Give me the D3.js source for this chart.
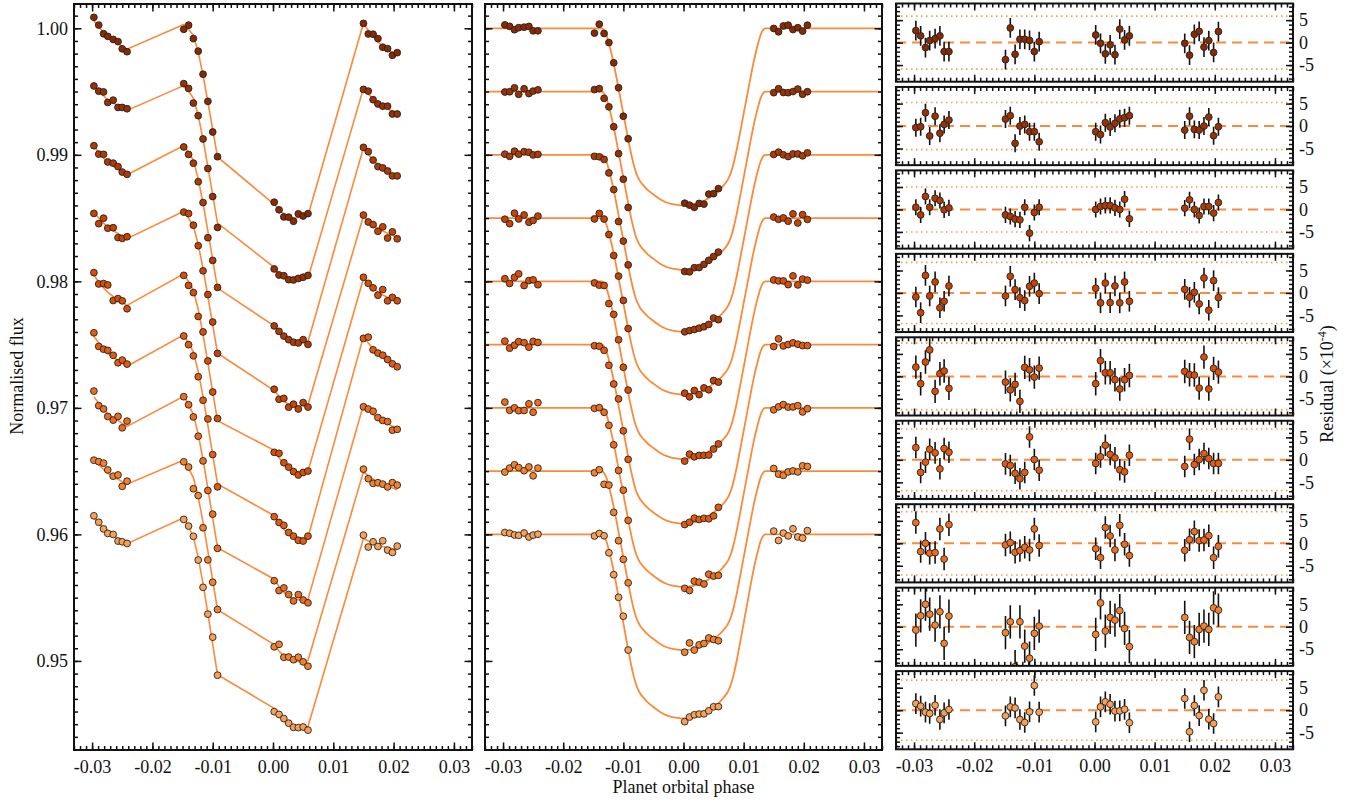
<!DOCTYPE html>
<html><head><meta charset="utf-8">
<script src="https://cdn.jsdelivr.net/npm/d3@7"></script>
<style>body{margin:0;background:#fff} svg{display:block} text{font-family:"Liberation Serif","Times New Roman",serif;fill:#111}</style>
</head><body><svg id="c" width="1359" height="802"></svg>
<script>
// ---------- data ----------
const phases = [-0.0297,-0.0289,-0.0281,-0.0274,-0.0265,-0.0257,-0.0250,-0.0242,
  -0.0148,-0.0140,-0.0132,-0.0124,-0.0116,-0.0108,-0.0100,-0.0092,
  0.0002,0.0010,0.0018,0.0026,0.0034,0.0042,0.0050,0.0058,
  0.0150,0.0158,0.0166,0.0174,0.0182,0.0190,0.0198,0.0206];
const baselines = [1.000,0.995,0.990,0.985,0.980,0.975,0.970,0.965,0.960];
const depths = [140,141,140,139.5,140.5,141.5,141.5,141.5,145.5]; // x1e-4
const colors = ["#8a2a03","#9a3004","#b03a04","#c64303","#d74e08","#e35b10","#ed6c1d","#f4822d","#f9a057"];
const modelPhase = [-0.0340,-0.0136,-0.0132,-0.0128,-0.0124,-0.0120,-0.0116,-0.0112,-0.0108,-0.0104,-0.0100,-0.0096,-0.0092,-0.0088,-0.0084,-0.0080,-0.0076,-0.0072,-0.0066,-0.0060,-0.0050,-0.0040,-0.0030,-0.0020,-0.0010,0,
  0.0010,0.0020,0.0030,0.0040,0.0050,0.0060,0.0066,0.0072,0.0076,0.0080,0.0084,0.0088,0.0092,0.0096,0.0100,0.0104,0.0108,0.0112,0.0116,0.0120,0.0124,0.0128,0.0132,0.0136,0.0340];
const modelDeficit = [0,0,1.5,5.5,12,19.5,28,37.5,47.5,57.5,67.5,77.5,87.5,97,105.5,112.5,117.5,121,124.5,127.5,131.3,134.7,137.3,138.8,139.6,140,
  139.6,138.8,137.3,134.7,131.3,127.5,124.5,121,117.5,112.5,105.5,97,87.5,77.5,67.5,57.5,47.5,37.5,28,19.5,12,5.5,1.5,0,0];
const residuals = [
 [2.67,1.5,-1.1,0.45,0.9,1.5,-2.0,-2.0, -3.8,3.26,-2.6,0.74,0.74,0.5,-2.0,0.2, 1.7,-0.15,-2.5,-0.5,-2.7,3.0,0.6,1.5, -0.15,-2.8,1.85,2.5,-1.0,0.45,-2.2,2.45],
 [-0.37,-0.15,2.96,-2.2,2.2,-1.6,0.37,1.33, 1.55,2.3,-3.85,0,0.37,-1.26,-1.26,-3.5, -1.26,-1.9,0.74,-0.2,0.6,1.6,1.85,2.3, -0.9,2.2,-0.74,-0.9,0,2.0,-2.15,-0.15],
 [0.5,-1.2,2.9,0.5,2.5,2.0,-0.07,0.37, -1.2,-1.55,-2.15,-2.3,0.5,-5.26,-0.67,0.5, 0,0.67,0.9,0.9,0.37,0,2.3,-2.07, 0.3,2.15,0,-1.33,0.67,0.67,-0.8,1.55],
 [-0.9,-4.4,3.9,-0.67,2.45,-3.3,-1.85,1.55, -0.67,3.7,0.74,-1.04,-1.7,1.48,2.2,-0.15, 1.04,-2.2,2.2,-2.15,1.55,-2.2,2.45,-1.85, 0.8,-0.96,0.15,-2.45,3.33,-3.85,2.74,-1.04],
 [2.07,-1.63,3.2,5.9,-3.33,0.6,1.2,-2.67, -1.26,-3.0,-1.78,-5.55,2.0,1.48,-0.15,1.85, -1.63,3.5,0.8,0.8,-0.74,-2.8,-0.74,0.2, 1.1,0.37,0.3,-2.6,4.3,-2.8,1.78,0.96],
 [2.74,-2.8,-0.5,2.37,1.55,-2.0,2.5,1.7, -0.9,-1.26,-3.0,-4.2,-2.8,5.1,0.07,-2.3, -0.8,0.67,3.26,1.2,0.44,-2.2,-2.67,1.04, -1.48,4.6,-1.04,0.07,1.4,0.3,-0.8,-0.8],
 [4.6,-1.85,0,-2.2,-2.07,3.2,-3.5,4.15, -0.37,0.15,-2.0,-1.63,-0.9,-1.48,3.2,-0.5, -1.2,-3.2,3.5,1.63,-1.48,4.0,-0.22,-2.74, -1.55,0.8,2.6,0.6,0.74,1.7,-3.2,-0.67],
 [-0.74,2.44,5.0,2.8,0.37,3.33,-3.7,2.37, -1.33,1.1,-8.9,1.1,-4.3,-7.0,-1.48,0.15, -1.7,5.3,-0.96,2.07,1.48,3.6,-0.37,-4.44, 2.07,-2.37,-3.33,-0.6,0.15,-0.6,4.2,3.7],
 [1.48,0.9,-0.44,-0.74,1.1,-2.07,-0.6,0.15, -1.26,0.74,0.5,-2.07,-2.74,-0.37,5.5,-0.44, -2.6,0.74,1.85,1.33,-0.2,-0.15,0.2,-2.8, 2.6,-4.8,1.04,-1.2,4.44,-2.0,-2.96,2.96]
];
const errors = [2.2,2.0,1.8,2.3,2.6,2.4,2.5,3.7,2.3];
const limits = [5.9,5.25,5.0,6.8,7.4,6.85,7.05,9.5,6.7];
// systematics per orbit: [start,end] for orbits A,B,C,D (x1e-4)
const trends = [
 [6,-16.5, 3,-14.2, 0.8,-19.7, 4,-21.7],
 [4.8,-14.9, 4.7,-15.8, 2,-18.4, 2.6,-17.6],
 [6.7,-15.8, 7.4,-17.8, 4.7,-19.5, 5.6,-18.2],
 [4.6,-16.3, 5.4,-19.6, 3.1,-19.7, 1.6,-15.3],
 [4.8,-19, 6,-22.4, 6.9,-21.4, 2.1,-16.3],
 [6.6,-17.1, 7.7,-21.7, 6.2,-22.8, 6.4,-16.7],
 [8.7,-14.6, 9.2,-22.1, 6,-21.7, 2.4,-16.3],
 [9.4,-10.3, 8.7,-21.1, 4.3,-20.1, -0.5,-14.7],
 [13.2,-7.3, 13.1,-19.9, 7.9,-18.6, -3.2,-12.2]
];
const rampShape = [0,0.22,0.41,0.57,0.70,0.80,0.90,1.0];
const xMajor = [-0.03,-0.02,-0.01,0,0.01,0.02,0.03];
const xLabels = ["-0.03","-0.02","-0.01","0.00","0.01","0.02","0.03"];
const yMajor = [0.95,0.96,0.97,0.98,0.99,1.00];
const yLabels = ["0.95","0.96","0.97","0.98","0.99","1.00"];
const rMajor = [-5,0,5];
const rLabels = ["-5","0","5"];

// ---------- drawing ----------
const svg = d3.select("#c");
const defs = svg.append("defs");
const LINE = "#fb8a3c";
const yTop = 4, yBot = 750;
const xL = d3.scaleLinear().domain([-0.033,0.033]).range([74,472]);
const xM = d3.scaleLinear().domain([-0.033,0.033]).range([485,882]);
const xR = d3.scaleLinear().domain([-0.033,0.033]).range([896,1293]);
const y = d3.scaleLinear().domain([0.94296,1.00192]).range([yBot,yTop]);
const deficit = d3.scaleLinear().domain(modelPhase).range(modelDeficit).clamp(true);
const xMinor = d3.range(-33,34).map(k=>k/1000);
const yMinor = d3.range(943,1002).map(k=>k/1000);
const rMinor = d3.range(-8,9);

function styleAxis(g){
  g.select(".domain").remove();
  g.selectAll("line").attr("stroke","#111").attr("stroke-width",1.5);
  g.attr("font-family",null).attr("font-size",18);
  g.selectAll("text").attr("fill","#111");
}
function frame(x, yy, o){
  const [x0,x1] = x.range(); const [y1,y0] = yy.range();
  const g = svg.append("g");
  const mk = (axis, tr, vals, size, labels, pad) => {
    const a = axis.tickValues(vals).tickSize(-size).tickPadding(pad||6)
      .tickFormat(labels ? ((d,i)=>labels[i]) : (()=> ""));
    g.append("g").attr("transform",tr).call(a).call(styleAxis);
  };
  mk(d3.axisBottom(x), `translate(0,${y1})`, xMinor, o.minor, null);
  mk(d3.axisBottom(x), `translate(0,${y1})`, xMajor, o.major, o.xlab ? xLabels : null, 10);
  mk(d3.axisTop(x), `translate(0,${y0})`, xMinor, o.minor, null);
  mk(d3.axisTop(x), `translate(0,${y0})`, xMajor, o.major, null);
  mk(d3.axisLeft(yy), `translate(${x0},0)`, o.yMinor, o.minor, null);
  mk(d3.axisLeft(yy), `translate(${x0},0)`, o.yMajor, o.major, o.ylabL, 6);
  mk(d3.axisRight(yy), `translate(${x1},0)`, o.yMinor, o.minor, null);
  mk(d3.axisRight(yy), `translate(${x1},0)`, o.yMajor, o.major, o.ylabR, 6);
  g.append("rect").attr("x",x0).attr("y",y0).attr("width",x1-x0).attr("height",y1-y0)
    .attr("fill","none").attr("stroke","#111").attr("stroke-width",2);
}

const nD = baselines.length;
const trendAt = (d,j) => { const g=Math.floor(j/8), k=j%8; const s=trends[d][2*g], e=trends[d][2*g+1]; return s+(e-s)*rampShape[k]; };
const modelAt = (d,p) => deficit(p)*depths[d]/140;

// left panel lines and points
const gL = svg.append("g");
const lineL = d3.line().x(d=>xL(d.p)).y(d=>y(d.v));
for (let d=0; d<nD; d++){
  const pts = phases.map((p,j)=>({p, v: baselines[d] + (trendAt(d,j) - modelAt(d,p))*1e-4}));
  gL.append("path").attr("d",lineL(pts)).attr("fill","none").attr("stroke",LINE).attr("stroke-width",1.6);
}
for (let d=0; d<nD; d++){
  gL.selectAll(null).data(phases).enter().append("circle")
    .attr("cx",p=>xL(p))
    .attr("cy",(p,j)=>y(baselines[d] + (trendAt(d,j) - modelAt(d,p) + residuals[d][j])*1e-4))
    .attr("r",3.4).attr("fill",colors[d]).attr("stroke","#222").attr("stroke-width",0.9);
}
// middle panel
defs.append("clipPath").attr("id","clipM").append("rect")
  .attr("x",485).attr("y",yTop).attr("width",882-485).attr("height",yBot-yTop);
const gM = svg.append("g");
const lineM = d3.line().x(d=>xM(d.p)).y(d=>y(d.v)).curve(d3.curveMonotoneX);
for (let d=0; d<nD; d++){
  const pts = modelPhase.map((p,i)=>({p, v: baselines[d] - modelDeficit[i]*depths[d]/140*1e-4}));
  gM.append("path").attr("d",lineM(pts)).attr("fill","none").attr("stroke",LINE).attr("stroke-width",1.8)
    .attr("clip-path","url(#clipM)");
}
for (let d=0; d<nD; d++){
  gM.selectAll(null).data(phases).enter().append("circle")
    .attr("cx",p=>xM(p))
    .attr("cy",(p,j)=>y(baselines[d] + (residuals[d][j] - modelAt(d,p))*1e-4))
    .attr("r",3.4).attr("fill",colors[d]).attr("stroke","#222").attr("stroke-width",0.9);
}

frame(xL, y, {major:7.5, minor:4, xlab:true, yMajor, yMinor, ylabL:yLabels});
frame(xM, y, {major:7.5, minor:4, xlab:true, yMajor, yMinor});

// residual panels
for (let d=0; d<nD; d++){
  const t = 3.5 + d*83.45, h = 78.2;
  const yr = d3.scaleLinear().domain([-8.7,8.7]).range([t+h,t]);
  const [x0,x1] = xR.range();
  defs.append("clipPath").attr("id","clipR"+d).append("rect")
    .attr("x",x0).attr("y",t).attr("width",x1-x0).attr("height",h);
  const g = svg.append("g").attr("clip-path",`url(#clipR${d})`);
  [limits[d], -limits[d]].forEach(v=>{
    if (Math.abs(v) < 8.7) g.append("line").attr("x1",x0).attr("x2",x1).attr("y1",yr(v)).attr("y2",yr(v))
      .attr("stroke","#fb9a50").attr("stroke-width",1.6).attr("stroke-dasharray","1.5,3.5");
  });
  g.append("line").attr("x1",x0).attr("x2",x1).attr("y1",yr(0)).attr("y2",yr(0))
    .attr("stroke",LINE).attr("stroke-width",2).attr("stroke-dasharray","10,6");
  g.selectAll(null).data(phases).enter().append("line")
    .attr("x1",p=>xR(p)).attr("x2",p=>xR(p))
    .attr("y1",(p,j)=>yr(residuals[d][j]-errors[d])).attr("y2",(p,j)=>yr(residuals[d][j]+errors[d]))
    .attr("stroke","#111").attr("stroke-width",1.6);
  g.selectAll(null).data(phases).enter().append("circle")
    .attr("cx",p=>xR(p)).attr("cy",(p,j)=>yr(residuals[d][j]))
    .attr("r",3.4).attr("fill",colors[d]).attr("stroke","#222").attr("stroke-width",0.9);
  frame(xR, yr, {major:7, minor:4, xlab: d===nD-1, yMajor:rMajor, yMinor:rMinor, ylabR:rLabels});
}

// titles
svg.append("text").attr("transform","translate(23,376) rotate(-90)").attr("text-anchor","middle")
  .attr("font-size",18).text("Normalised flux");
svg.append("text").attr("x",683.5).attr("y",793).attr("text-anchor","middle")
  .attr("font-size",18).text("Planet orbital phase");
const rt = svg.append("text").attr("transform","translate(1333,384) rotate(-90)").attr("text-anchor","middle")
  .attr("font-size",18);
rt.append("tspan").text("Residual (\u00d710");
rt.append("tspan").attr("dy",-7).attr("font-size",12).text("-4");
rt.append("tspan").attr("dy",7).text(")");
</script></body></html>
